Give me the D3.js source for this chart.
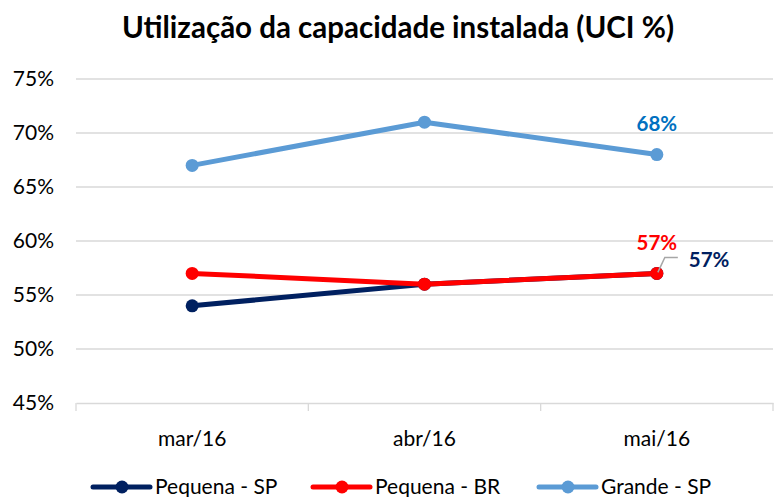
<!DOCTYPE html>
<html><head><meta charset="utf-8">
<script src="https://cdn.jsdelivr.net/npm/d3@7"></script>
<style>
body{margin:0;background:#fff;}
svg{display:block;font-family:Lato,"Open Sans",sans-serif;}
</style></head>
<body>
<svg id="c" width="778" height="497"></svg>
<script>
const title = "Utilização da capacidade instalada (UCI %)";
const categories = ["mar/16","abr/16","mai/16"];
const pequenaSP = [54, 56, 57];
const pequenaBR = [57, 56, 57];
const grandeSP = [67, 71, 68];
const yTicks = [45,50,55,60,65,70,75];
const seriesNames = ["Pequena - SP","Pequena - BR","Grande - SP"];
const seriesColors = ["#002060","#FF0000","#5B9BD5"];
const labelColors = ["#002060","#FF0000","#0070C0"];

const series = [
  {name: seriesNames[0], values: pequenaSP, color: seriesColors[0], label: labelColors[0]},
  {name: seriesNames[1], values: pequenaBR, color: seriesColors[1], label: labelColors[1]},
  {name: seriesNames[2], values: grandeSP, color: seriesColors[2], label: labelColors[2]}
];

const svg = d3.select("#c");
const L = 76, R = 773, T = 79, B = 403;
const x = d3.scaleBand().domain(categories).range([L, R]);
const y = d3.scaleLinear().domain([45, 75]).range([B, T]);
const cx = c => x(c) + x.bandwidth()/2;

svg.append("text").attr("x", 398).attr("y", 38).attr("text-anchor","middle")
  .attr("font-size", 29.5).attr("font-weight","bold").attr("fill","#000").text(title);

// gridlines
svg.append("g").selectAll("line").data(yTicks.slice(1)).join("line")
  .attr("x1", L).attr("x2", R).attr("y1", d=>y(d)).attr("y2", d=>y(d))
  .attr("stroke","#d9d9d9").attr("stroke-width",1.3);

// y axis labels
const yAxis = d3.axisLeft(y).tickValues(yTicks).tickFormat(d=>d+"%").tickSize(0).tickPadding(22);
const gy = svg.append("g").attr("transform",`translate(${L},0)`).call(yAxis);
gy.select(".domain").remove();
gy.selectAll("text").attr("font-size",21).attr("fill","#000").attr("font-family","Lato,'Open Sans',sans-serif");

// x axis
const xAxis = d3.axisBottom(x).tickSize(0).tickPadding(28);
const gx = svg.append("g").attr("transform",`translate(0,${B})`).call(xAxis);
gx.select(".domain").attr("stroke","#d9d9d9").attr("stroke-width",1.3);
gx.selectAll("text").attr("font-size",21).attr("fill","#000").attr("font-family","Lato,'Open Sans',sans-serif");
// category boundary ticks
const bounds = categories.map(c=>x(c)).concat([x(categories[categories.length-1])+x.bandwidth()]);
svg.append("g").selectAll("line").data(bounds).join("line")
  .attr("x1",d=>d).attr("x2",d=>d).attr("y1",B).attr("y2",B+8)
  .attr("stroke","#d9d9d9").attr("stroke-width",1.3);

const line = d3.line().x((d,i)=>cx(categories[i])).y(d=>y(d));
// draw order: Grande, Pequena SP, Pequena BR
[series[2], series[0], series[1]].forEach(s=>{
  const g = svg.append("g");
  g.append("path").attr("d", line(s.values)).attr("fill","none")
    .attr("stroke", s.color).attr("stroke-width",5).attr("stroke-linejoin","round");
  g.selectAll("circle").data(s.values).join("circle")
    .attr("cx",(d,i)=>cx(categories[i])).attr("cy",d=>y(d)).attr("r",6.5).attr("fill",s.color);
});

// data labels for last point
const last = categories.length-1;
const lx = cx(categories[last]);
svg.append("text").attr("x", lx).attr("y", y(grandeSP[last]) - 24).attr("text-anchor","middle")
  .attr("font-size",20.5).attr("font-weight","bold").attr("fill",labelColors[2]).text(grandeSP[last]+"%");
svg.append("text").attr("x", lx).attr("y", y(pequenaBR[last]) - 23).attr("text-anchor","middle")
  .attr("font-size",20.5).attr("font-weight","bold").attr("fill",labelColors[1]).text(pequenaBR[last]+"%");
// leader line for Pequena SP
const py = y(pequenaSP[last]);
svg.append("polyline").attr("points",`${lx+1},${py-1} ${lx+8},${py-16} ${lx+21},${py-16}`)
  .attr("fill","none").attr("stroke","#a6a6a6").attr("stroke-width",1.5);
svg.append("text").attr("x", lx+32).attr("y", py-6).attr("text-anchor","start")
  .attr("font-size",20.5).attr("font-weight","bold").attr("fill",labelColors[0]).text(pequenaSP[last]+"%");

// legend
const legX = [93, 313, 539];
const leg = svg.append("g");
series.forEach((s,i)=>{
  const g = leg.append("g").attr("transform",`translate(${legX[i]},487)`);
  g.append("line").attr("x1",0).attr("x2",57).attr("y1",0).attr("y2",0)
    .attr("stroke",s.color).attr("stroke-width",5).attr("stroke-linecap","round");
  g.append("circle").attr("cx",29).attr("cy",0).attr("r",6.5).attr("fill",s.color);
  g.append("text").attr("x",62).attr("y",7).attr("font-size",21).attr("fill","#000").text(s.name);
});
</script>
</body></html>
